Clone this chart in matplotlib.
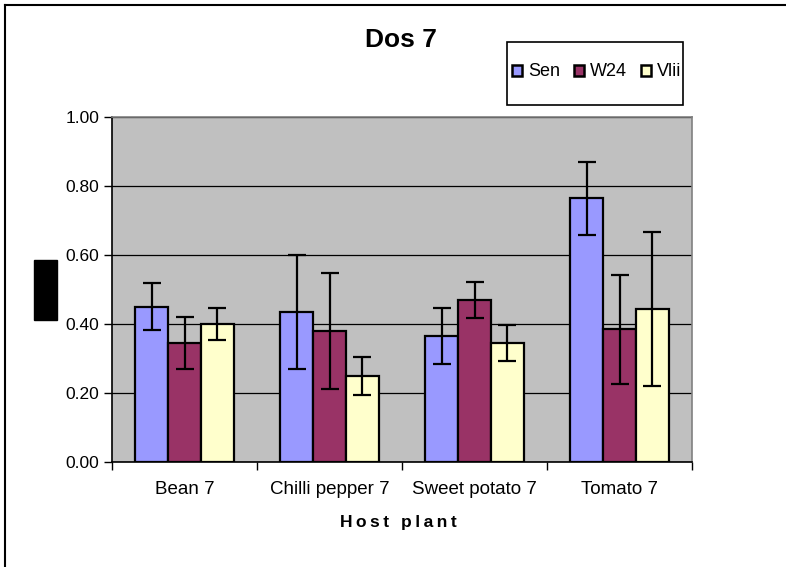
"""Grouped bar chart: Dos 7 by host plant."""

import matplotlib

matplotlib.use("Agg")
import matplotlib.pyplot as plt
import numpy as np
from matplotlib.lines import Line2D
from matplotlib.patches import Patch, Rectangle

plt.rcParams["font.family"] = ["Liberation Sans", "DejaVu Sans"]

categories = ["Bean 7", "Chilli pepper 7", "Sweet potato 7", "Tomato 7"]
series_names = ["Sen", "W24", "Vlii"]
sen_values = [0.45, 0.435, 0.365, 0.765]
w24_values = [0.345, 0.38, 0.47, 0.385]
vlii_values = [0.40, 0.248, 0.345, 0.443]
sen_errors = [0.068, 0.165, 0.08, 0.106]
w24_errors = [0.075, 0.168, 0.052, 0.158]
vlii_errors = [0.046, 0.055, 0.052, 0.224]
y_ticks = [0.0, 0.2, 0.4, 0.6, 0.8, 1.0]

colors = ["#9999FF", "#993366", "#FFFFCC"]

fig = plt.figure(figsize=(7.86, 5.67), dpi=100)
ax = fig.add_axes([112 / 786, 105 / 567, 580 / 786, 345 / 567])
ax.set_facecolor("#C0C0C0")

x = np.arange(len(categories))
bar_width = 0.226
all_values = [sen_values, w24_values, vlii_values]
all_errors = [sen_errors, w24_errors, vlii_errors]

for i, (values, errors) in enumerate(zip(all_values, all_errors)):
    ax.bar(
        x + (i - 1) * bar_width,
        values,
        width=bar_width,
        color=colors[i],
        edgecolor="black",
        linewidth=1.6,
        zorder=3,
    )
    ax.errorbar(
        x + (i - 1) * bar_width,
        values,
        yerr=errors,
        fmt="none",
        ecolor="black",
        elinewidth=1.6,
        capsize=6.5,
        capthick=1.6,
        zorder=4,
    )

ax.set_xlim(-0.5, len(categories) - 0.5)
ax.set_ylim(0, 1.0)
ax.set_yticks(y_ticks)
ax.set_yticklabels([f"{v:.2f}" for v in y_ticks], fontsize=12.5)
ax.yaxis.grid(True, color="black", linewidth=0.9, zorder=1)
ax.set_axisbelow(True)

ax.set_xticks(np.arange(len(categories) + 1) - 0.5)
ax.set_xticklabels([])
ax.set_xticks(x, minor=True)
ax.set_xticklabels(categories, minor=True, fontsize=13.5)
ax.tick_params(axis="x", which="major", length=6, width=1, direction="out")
ax.tick_params(axis="x", which="minor", length=0, pad=14)
ax.tick_params(axis="y", length=6, width=1, direction="out", pad=3)

ax.spines["left"].set_color("black")
ax.spines["bottom"].set_color("black")
ax.spines["top"].set_color("#808080")
ax.spines["right"].set_color("#808080")
for spine in ax.spines.values():
    spine.set_linewidth(1.2)

fig.text(401 / 786, 1 - 40 / 567, "Dos 7", ha="center", va="center",
         fontsize=19, fontweight="bold")
fig.text(398 / 786, 1 - 523 / 567, "\u2009".join("Host") + "\u2009 \u2009" + "\u2009".join("plant"),
         ha="center", va="center", fontsize=12.5, fontweight="bold")

# redacted y label block
fig.add_artist(Rectangle((34 / 786, 1 - 320 / 567), 23 / 786, 60 / 567,
                         transform=fig.transFigure, color="black"))

# outer chart border (left and top only, cropped)
fig.add_artist(Line2D([5 / 786, 5 / 786], [0, 1 - 5 / 567],
                      transform=fig.transFigure, color="black", linewidth=1.5))
fig.add_artist(Line2D([5 / 786, 1], [1 - 5 / 567, 1 - 5 / 567],
                      transform=fig.transFigure, color="black", linewidth=1.5))

# legend box
fig.add_artist(Rectangle((507 / 786, 1 - 105 / 567), 176 / 786, 63 / 567,
                         transform=fig.transFigure, facecolor="white",
                         edgecolor="black", linewidth=1.2, zorder=5))
handles = [Patch(facecolor=c, edgecolor="black", linewidth=1.8) for c in colors]
leg = fig.legend(
    handles,
    series_names,
    ncol=3,
    loc="center left",
    bbox_to_anchor=(512 / 786, 1 - 72 / 567),
    frameon=False,
    fontsize=13,
    handlelength=0.55,
    handleheight=0.55,
    handletextpad=0.35,
    columnspacing=0.75,
    borderpad=0,
    borderaxespad=0,
)
leg.set_zorder(6)

fig.savefig("out.png", dpi=100)
